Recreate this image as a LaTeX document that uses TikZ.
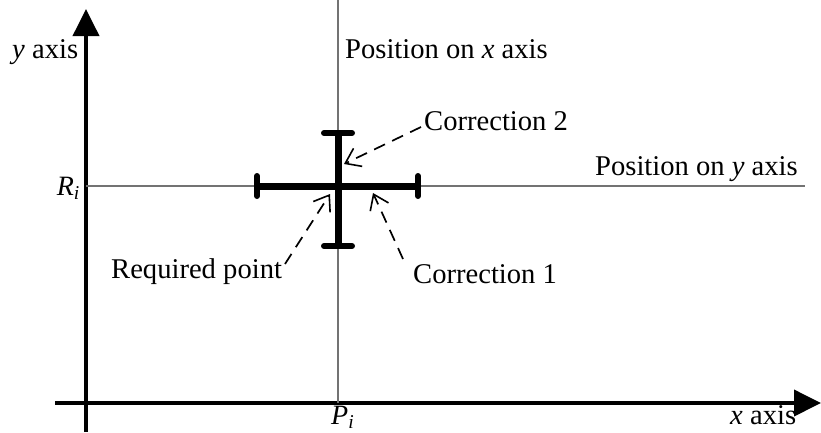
\documentclass[tikz,border=0pt]{standalone}
\usepackage{fontspec}
\setmainfont{Liberation Serif}
\usetikzlibrary{arrows.meta}
\begin{document}
\begin{tikzpicture}[x=1pt,y=-1pt,
  lbl/.style={inner sep=0pt,anchor=base west,font=\fontsize{28.6}{30}\selectfont},
  mlbl/.style={inner sep=0pt,font=\fontsize{28}{30}\selectfont\itshape},
  axisline/.style={line width=3.8pt,-{Triangle[length=27pt,width=26pt]}},
  guide/.style={line width=1.6pt,black!55},
  bar/.style={line width=7pt},
  capline/.style={line width=6pt,line cap=round},
  darrow/.style={line width=1.7pt,dash pattern=on 12pt off 8pt,-{Straight Barb[length=14pt,width=20pt,line width=1.6pt]}}]
\useasboundingbox (0,0) rectangle (821,432);
% axes
\coordinate (yb) at (86,432);
\coordinate (yt) at (86,9);
\coordinate (xl) at (55,403);
\coordinate (xr) at (821,403);
\draw[axisline] (yb) -- (yt);
\draw[axisline] (xl) -- (xr);
% guide lines
\coordinate (vt) at (338,0);
\coordinate (vb) at (338,403);
\coordinate (hl) at (86,186);
\coordinate (hr) at (805,186);
\draw[guide] (vt) -- (vb);
\draw[guide] (hl) -- (hr);
% thick cross
\coordinate (cl) at (257,186);
\coordinate (cr) at (418,186);
\coordinate (ct) at (338,133);
\coordinate (cb) at (338,246);
\draw[bar] (cl) -- (cr);
\draw[bar] (ct) -- (cb);
\draw[capline] ([yshift=-10pt]cl) -- ([yshift=10pt]cl);
\draw[capline] ([yshift=-10pt]cr) -- ([yshift=10pt]cr);
\draw[capline] ([xshift=-14pt]ct) -- ([xshift=14pt]ct);
\draw[capline] ([xshift=-14pt]cb) -- ([xshift=14pt]cb);
% labels
\node[lbl] (ylab) at (12,58) {\textit{y} axis};
\node[lbl] (posx) at (345,58) {Position on \textit{x} axis};
\node[lbl] (corr2) at (424,130) {Correction 2};
\node[lbl] (posy) at (595,175) {Position on \textit{y} axis};
\node[lbl] (req) at (111,278) {Required point};
\node[lbl] (corr1) at (413,283) {Correction 1};
\node[lbl] (xlab) at (730,424) {\textit{x} axis};
\node[mlbl,anchor=base east] (ri) at (80,195) {R\textsubscript{i}};
\node[mlbl,anchor=base west] (pi) at (331,424) {P\textsubscript{i}};
% dashed arrows
\coordinate (t2) at (344,164);
\coordinate (t1) at (373,193);
\coordinate (tr) at (330,194);
\coordinate (s2) at (421,127);
\coordinate (s1) at (403,259);
\coordinate (sr) at (285,264);
\draw[darrow] (s2) -- (t2);
\draw[darrow] (s1) -- (t1);
\draw[darrow] (sr) -- (tr);
\end{tikzpicture}
\end{document}
